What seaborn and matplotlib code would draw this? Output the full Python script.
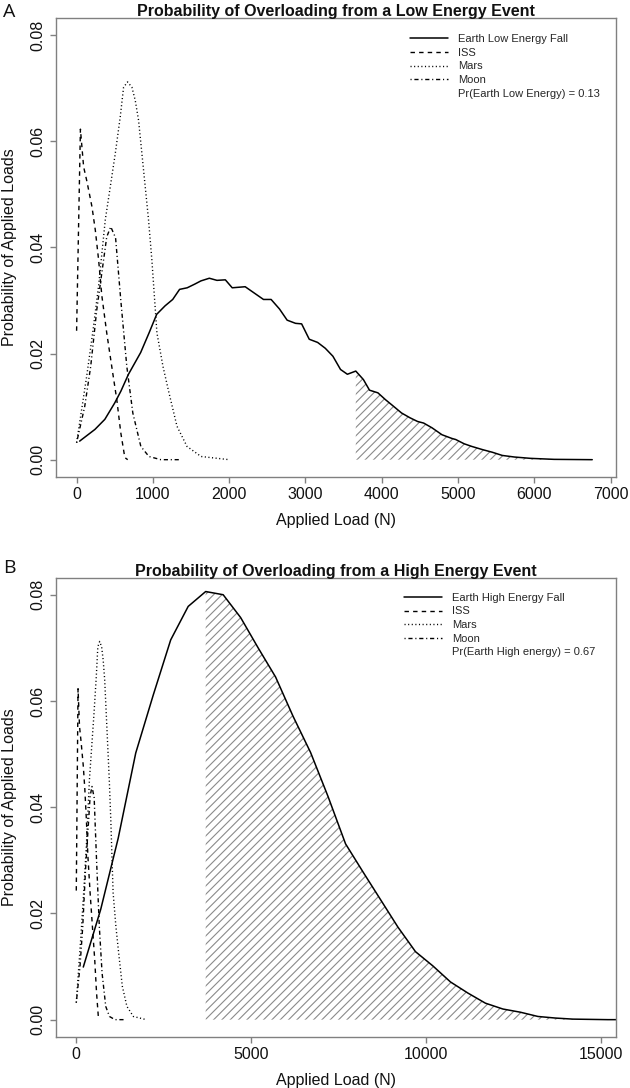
import matplotlib
matplotlib.use("Agg")
import matplotlib.pyplot as plt
from matplotlib.lines import Line2D
import numpy as np
import seaborn as sns

# ---- data ----
earth_low_x = [40, 240, 370, 500, 580, 680, 840, 950, 1050, 1160, 1260, 1350, 1450, 1550, 1630,
               1740, 1840, 1950, 2040, 2210, 2320, 2450, 2550, 2660, 2760, 2870, 2950, 3050, 3160,
               3260, 3360, 3460, 3550, 3660, 3760, 3840, 3950, 4050, 4160, 4260, 4370, 4470, 4550,
               4660, 4790, 4920, 4970, 5080, 5180, 5320, 5450, 5580, 5740, 5950, 6260, 6760]
earth_low_y = [0.0035, 0.0057, 0.0076, 0.0107, 0.0129, 0.0161, 0.0202, 0.0239, 0.0274, 0.0290,
               0.0302, 0.0321, 0.0324, 0.0331, 0.0337, 0.0342, 0.0338, 0.0339, 0.0324, 0.0326,
               0.0315, 0.0302, 0.0302, 0.0284, 0.0263, 0.0257, 0.0256, 0.0227, 0.0221, 0.0210,
               0.0195, 0.0170, 0.0161, 0.0167, 0.0151, 0.0131, 0.0126, 0.0113, 0.0100, 0.0088,
               0.0079, 0.0072, 0.0069, 0.0060, 0.0047, 0.0040, 0.0038, 0.0030, 0.0025, 0.0019,
               0.0014, 0.0008, 0.0005, 0.00025, 0.00006, 0.0]

earth_high_x = [200, 700, 1200, 1700, 2200, 2700, 3200, 3700, 4200, 4700, 5200, 5700, 6200, 6700,
                7200, 7700, 8200, 8700, 9200, 9700, 10200, 10700, 11200, 11700, 12200, 12700,
                13200, 13700, 14200, 14700, 15200, 15700]
earth_high_y = [0.0099, 0.0208, 0.0342, 0.0502, 0.0611, 0.0715, 0.0778, 0.0806, 0.0800, 0.0757,
                0.0700, 0.0645, 0.0571, 0.0503, 0.0420, 0.0331, 0.0278, 0.0226, 0.0174, 0.0128,
                0.0101, 0.0071, 0.0050, 0.0031, 0.0020, 0.0014, 0.0006, 0.0003, 0.0001, 0.00005,
                0.0, 0.0]

iss_x = [0, 50, 92, 136, 201, 245, 289, 330, 395, 474, 527, 579, 632, 670]
iss_y = [0.0243, 0.0623, 0.0552, 0.0524, 0.0477, 0.0433, 0.0376, 0.0310, 0.0239, 0.0163,
         0.0113, 0.0051, 0.0004, 0.0]

mars_x = [0, 53, 132, 211, 290, 376, 441, 507, 572, 616, 668, 725, 769, 812, 856, 900, 943,
          987, 1053, 1132, 1211, 1316, 1447, 1632, 2000]
mars_y = [0.0032, 0.0082, 0.0157, 0.0239, 0.0330, 0.0452, 0.0514, 0.0577, 0.0646, 0.0702,
          0.0712, 0.0702, 0.0677, 0.0640, 0.0577, 0.0514, 0.0452, 0.0376, 0.0239, 0.0176,
          0.0126, 0.0063, 0.0025, 0.0006, 0.0]

moon_x = [0, 106, 185, 264, 342, 395, 448, 511, 579, 658, 737, 842, 948, 1105, 1370]
moon_y = [0.0032, 0.0100, 0.0176, 0.0282, 0.0364, 0.0420, 0.0439, 0.0418, 0.0301, 0.0176,
          0.0088, 0.0025, 0.0006, 0.0, 0.0]

overload_threshold = 3650

# ---- style ----
sns.set_theme(style="white")
plt.rcParams["font.family"] = ["Liberation Sans", "DejaVu Sans"]
plt.rcParams["hatch.color"] = "#8a8a8a"
plt.rcParams["hatch.linewidth"] = 0.8

grey = "#808080"
dash_iss = (0, (3.2, 3.0))
dot_mars = (0, (0.8, 1.8))
dashdot_moon = (0, (0.8, 2.0, 3.0, 2.0))

fig = plt.figure(figsize=(6.3, 10.88), dpi=100)
ax_a = fig.add_axes([0.0889, 0.5619, 0.8881, 0.4213])
ax_b = fig.add_axes([0.0889, 0.0472, 0.8881, 0.4218])


def draw_panel(ax, ex, ey, earth_label, pr_label, title, xlim, xticks, leg_x, leg_y):
    ex = np.asarray(ex)
    ey = np.asarray(ey)
    sns.lineplot(x=ex, y=ey, ax=ax, color="black", lw=1.1, sort=False, estimator=None)
    sns.lineplot(x=iss_x, y=iss_y, ax=ax, color="black", lw=1.0, linestyle=dash_iss,
                 sort=False, estimator=None)
    sns.lineplot(x=mars_x, y=mars_y, ax=ax, color="black", lw=1.0, linestyle=dot_mars,
                 sort=False, estimator=None)
    sns.lineplot(x=moon_x, y=moon_y, ax=ax, color="black", lw=1.0, linestyle=dashdot_moon,
                 sort=False, estimator=None)

    # shaded region: loads above the overload threshold
    mask = ex >= overload_threshold
    ax.fill_between(ex[mask], 0, ey[mask], facecolor="none", edgecolor="#8a8a8a",
                    hatch="////", linewidth=0)

    ax.set_xlim(*xlim)
    ax.set_ylim(-0.0032, 0.0832)
    ax.set_xticks(xticks)
    ax.set_xticklabels([str(t) for t in xticks])
    yt = [0.0, 0.02, 0.04, 0.06, 0.08]
    ax.set_yticks(yt)
    ax.set_yticklabels([f"{t:.2f}" for t in yt], rotation=90, va="center")

    for sp in ax.spines.values():
        sp.set_color(grey)
        sp.set_linewidth(1.0)
    ax.tick_params(axis="both", which="major", direction="out", length=4, width=1.0,
                   color=grey, labelsize=11.5, labelcolor="#111111", bottom=True, left=True)
    ax.tick_params(axis="x", pad=3.5)
    ax.tick_params(axis="y", pad=4)

    ax.set_xlabel("Applied Load (N)", fontsize=11.5, labelpad=8, color="#111111")
    ax.set_ylabel("Probability of Applied Loads", fontsize=11.5, labelpad=9, color="#111111")
    ax.set_title(title, fontsize=11.5, fontweight="bold", pad=1.5, color="#111111")

    handles = [
        Line2D([], [], color="black", lw=1.1),
        Line2D([], [], color="black", lw=1.0, linestyle=dash_iss),
        Line2D([], [], color="black", lw=1.0, linestyle=dot_mars),
        Line2D([], [], color="black", lw=1.0, linestyle=dashdot_moon),
        Line2D([], [], color="none", lw=0),
    ]
    labels = [earth_label, "ISS", "Mars", "Moon", pr_label]
    ax.legend(handles, labels, loc="upper left", bbox_to_anchor=(leg_x, leg_y),
              frameon=False, fontsize=8, handlelength=3.4, handletextpad=0.9,
              labelspacing=0.32, borderpad=0, borderaxespad=0)


draw_panel(ax_a, earth_low_x, earth_low_y, "Earth Low Energy Fall",
           "Pr(Earth Low Energy) = 0.13",
           "Probability of Overloading from a Low Energy Event",
           (-270, 7065), [0, 1000, 2000, 3000, 4000, 5000, 6000, 7000], 0.633, 0.965)
draw_panel(ax_b, earth_high_x, earth_high_y, "Earth High Energy Fall",
           "Pr(Earth High energy) = 0.67",
           "Probability of Overloading from a High Energy Event",
           (-580, 15420), [0, 5000, 10000, 15000], 0.622, 0.967)

fig.text(0.005, 1 - 3 / 1088, "A", fontsize=14, va="top", ha="left",
         family=["Open Sans", "DejaVu Sans"], color="#111111")
fig.text(0.005, 1 - 559 / 1088, "B", fontsize=14, va="top", ha="left",
         family=["Open Sans", "DejaVu Sans"], color="#111111")

fig.savefig("out.png", dpi=100)
